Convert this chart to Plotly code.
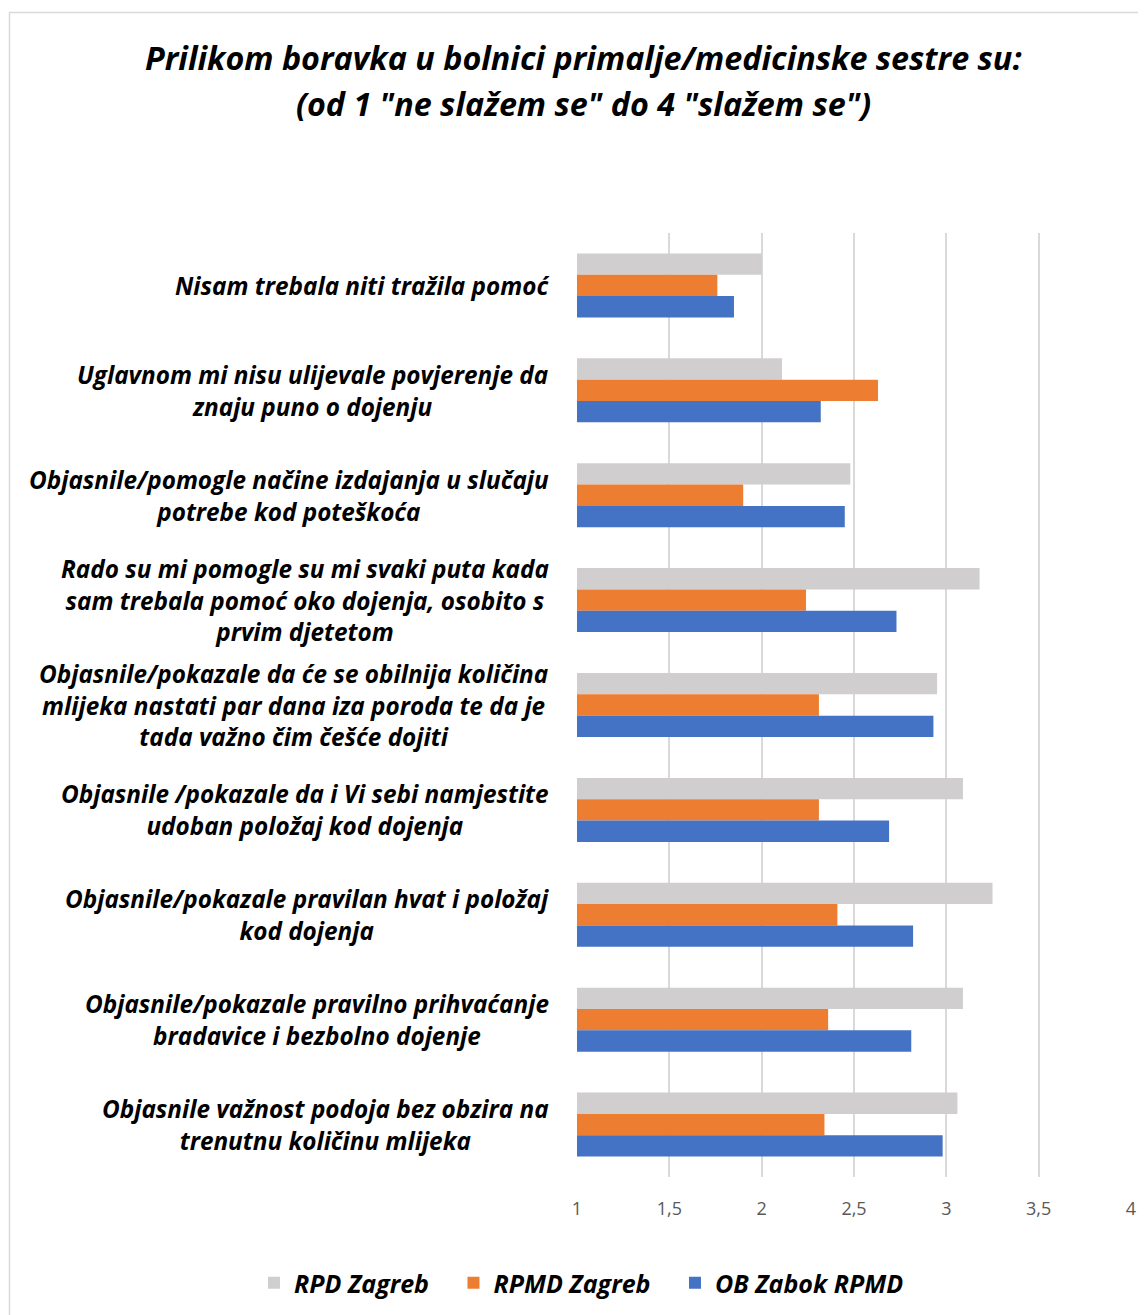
import plotly.graph_objects as go

categories = [
    "Nisam trebala niti tražila pomoć",
    "Uglavnom mi nisu ulijevale povjerenje da<br>znaju puno o dojenju",
    "Objasnile/pomogle načine izdajanja u slučaju<br>potrebe kod poteškoća",
    "Rado su mi pomogle su mi svaki puta kada<br>sam trebala pomoć oko dojenja, osobito s<br>prvim djetetom",
    "Objasnile/pokazale da će se obilnija količina<br>mlijeka nastati par dana iza poroda te da je<br>tada važno čim češće dojiti",
    "Objasnile /pokazale da i Vi sebi namjestite<br>udoban položaj kod dojenja",
    "Objasnile/pokazale pravilan hvat i položaj<br>kod dojenja",
    "Objasnile/pokazale pravilno prihvaćanje<br>bradavice i bezbolno dojenje",
    "Objasnile važnost podoja bez obzira na<br>trenutnu količinu mlijeka",
]

series_names = ["RPD Zagreb", "RPMD Zagreb", "OB Zabok RPMD"]
rpd_zagreb = [2.00, 2.11, 2.48, 3.18, 2.95, 3.09, 3.25, 3.09, 3.06]
rpmd_zagreb = [1.76, 2.63, 1.90, 2.24, 2.31, 2.31, 2.41, 2.36, 2.34]
ob_zabok = [1.85, 2.32, 2.45, 2.73, 2.93, 2.69, 2.82, 2.81, 2.98]

tick_vals = [1, 1.5, 2, 2.5, 3, 3.5, 4]
tick_text = ["1", "1,5", "2", "2,5", "3", "3,5", "4"]

title_lines = [
    "Prilikom boravka u bolnici primalje/medicinske sestre su:",
    "(od 1 \"ne slažem se\" do 4 \"slažem se\")",
]

colors = ["#d0cece", "#ed7d31", "#4472c4"]
legend_pad = ["\u00a0\u00a0\u00a0", "\u00a0\u00a0\u00a0", ""]  # extra gap after legend entries
FONT = "Open Sans"

OFF = 8  # page body margin
W, H = 1146 - OFF, 1315 - OFF
PX0, PX1, PY0, PY1 = 577, 1131, 233, 1177  # plot area in page pixels
L, R, T, B = PX0 - OFF, 1146 - PX1, PY0 - OFF, 1315 - PY1
PW, PH = PX1 - PX0, PY1 - PY0

def px_to_paper_x(px):
    return (px - PX0) / PW

def px_to_paper_y(py):
    return (PY1 - py) / PH

fig = go.Figure()
for name, vals, col, pad in zip(series_names, [rpd_zagreb, rpmd_zagreb, ob_zabok], colors, legend_pad):
    fig.add_trace(go.Bar(
        y=categories, x=vals, name="<b><i>" + name + "</i></b>" + pad, orientation="h",
        marker=dict(color=col, line=dict(width=0)),
    ))

annotations = []
for cat in categories:
    annotations.append(dict(
        x=px_to_paper_x(551), xref="paper", y=cat, yref="y",
        text="<b><i>" + cat + "</i></b>", showarrow=False,
        xanchor="right", yanchor="middle", align="center",
        font=dict(family=FONT, size=24.3, color="#000000"),
    ))

for i, line in enumerate(title_lines):
    annotations.append(dict(
        x=px_to_paper_x(583), xref="paper",
        y=px_to_paper_y([57, 103][i]), yref="paper",
        text="<b><i>" + line + "</i></b>", showarrow=False,
        xanchor="center", yanchor="middle",
        font=dict(family=FONT, size=32.3, color="#000000"),
    ))

fig.update_layout(
    width=W, height=H,
    margin=dict(l=L, r=R, t=T, b=B, autoexpand=False),
    paper_bgcolor="white", plot_bgcolor="white",
    barmode="group", bargap=0.39, bargroupgap=0,
    annotations=annotations,
    legend=dict(
        orientation="h", xref="paper", x=px_to_paper_x(254), xanchor="left",
        y=px_to_paper_y(1283), yanchor="middle",
        font=dict(family=FONT, size=25, color="#000000"),
        traceorder="normal",
    ),
    shapes=[dict(
        type="rect", xref="paper", yref="paper",
        x0=px_to_paper_x(9.5), x1=px_to_paper_x(1170),
        y0=px_to_paper_y(1340), y1=px_to_paper_y(12.5),
        line=dict(color="#d9d9d9", width=1.5), fillcolor="rgba(0,0,0,0)",
        layer="below",
    )],
    showlegend=True,
)

fig.update_xaxes(
    range=[1, 4], tickvals=tick_vals, ticktext=tick_text,
    showgrid=True, gridcolor="#d9d9d9", gridwidth=1.5,
    zeroline=False, showline=False, ticks="",
    tickfont=dict(family=FONT, size=18, color="#595959"),
    ticklabelstandoff=19,
)
fig.update_yaxes(
    autorange="reversed", showticklabels=False, showgrid=False,
    zeroline=False, showline=False, ticks="",
)

fig.write_html("out.html")
